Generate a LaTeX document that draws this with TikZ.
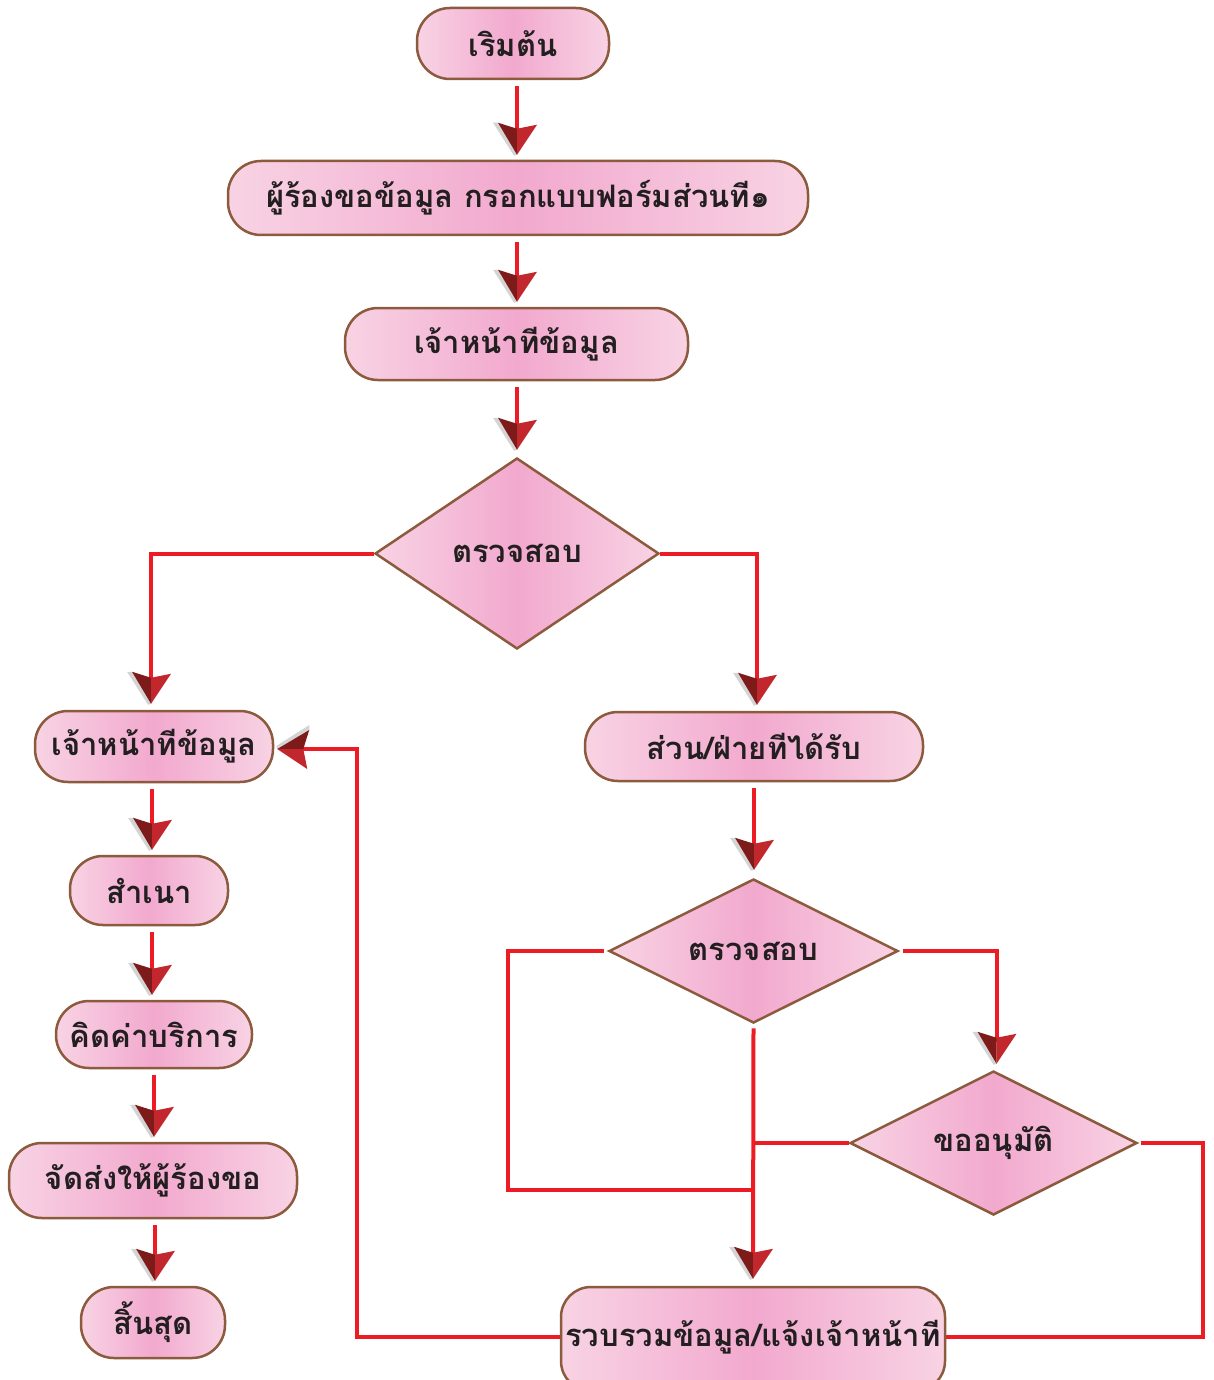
\documentclass[tikz,border=0pt]{standalone}
\usepackage{fontspec}
\usetikzlibrary{shapes.geometric,calc}
\newfontfamily\thaifont[Script=Thai]{Loma}
\definecolor{flowred}{HTML}{ED1C24}
\definecolor{headdark}{HTML}{7D1A1A}
\definecolor{headred}{HTML}{C1272D}
\definecolor{headshadow}{HTML}{D4D4D4}
\definecolor{rimbrown}{HTML}{8C5A3C}
\definecolor{pinkedge}{HTML}{F8D3E4}
\definecolor{pinkmid}{HTML}{F2A9CE}
\definecolor{inkgray}{HTML}{231F20}
\tikzset{
  x=1pt, y=-1pt,
  pinkfill/.style={left color=pinkedge, right color=pinkedge, middle color=pinkmid},
  labelfont/.style={font=\thaifont\bfseries\fontsize{31}{34}\selectfont, text=inkgray},
  stepbox/.style={pinkfill, draw=rimbrown, line width=2.5pt, rounded corners=33pt,
    inner sep=0pt, labelfont},
  decide/.style={diamond, pinkfill, draw=rimbrown, line width=2.5pt, inner sep=0pt, labelfont},
  conn/.style={draw=flowred, line width=4pt},
  tipped/.style={conn, shorten >=22pt},
  head/.pic={
    \fill[headshadow] (-24,-32) -- (-19,-32) -- (0,0) -- (-3,1) -- cycle;
    \fill[headdark] (-19,-32) -- (0,-26) -- (0,0) -- cycle;
    \fill[headred] (0,-26) -- (20,-30) -- (0,0) -- cycle;
  }
}
\begin{document}
\begin{tikzpicture}
\useasboundingbox (0,0) rectangle (1213,1380);

% main column
\node[stepbox, minimum width=192pt, minimum height=71pt] (start) at (513,43.5) {เริมต้น};
\node[stepbox, minimum width=580pt, minimum height=74pt] (form) at (518,198) {ผู้ร้องขอข้อมูล กรอกแบบฟอร์มส่วนที๑};
\node[stepbox, minimum width=343pt, minimum height=72pt] (staff) at (516.5,344) {เจ้าหน้าทีข้อมูล};
\node[decide, minimum width=284pt, minimum height=191pt, aspect=1.49] (check) at (517,553.5) {ตรวจสอบ};

% left column
\node[stepbox, minimum width=238pt, minimum height=71pt] (staffL) at (154,746.5) {เจ้าหน้าทีข้อมูล};
\node[stepbox, minimum width=158pt, minimum height=69pt] (copy) at (149,890.5) {สำเนา};
\node[stepbox, minimum width=196pt, minimum height=67pt] (fee) at (154,1034.5) {คิดค่าบริการ};
\node[stepbox, minimum width=288pt, minimum height=75pt] (send) at (153,1180.5) {จัดส่งให้ผู้ร้องขอ};
\node[stepbox, minimum width=144pt, minimum height=71pt] (finish) at (153,1322.5) {สิ้นสุด};

% right column
\node[stepbox, minimum width=338pt, minimum height=69pt] (dept) at (754,746.5) {ส่วน/ฝ่ายทีได้รับ};
\node[decide, minimum width=289pt, minimum height=144pt, aspect=2.0] (check2) at (753.5,951) {ตรวจสอบ};
\node[decide, minimum width=287pt, minimum height=144pt, aspect=2.0] (approve) at (993.5,1143) {ขออนุมัติ};
\node[stepbox, minimum width=384pt, minimum height=104pt, rounded corners=30pt] (collect) at (753,1339) {};
\node[labelfont, inner sep=0pt] (collectText) at (753,1337) {รวบรวมข้อมูล/แจ้งเจ้าหน้าที};

\coordinate (loopL) at (508,1190);
\coordinate (loopR) at (1203,1143);
\coordinate (loopB) at (357,1337);

% straight arrows, kept vertical
\draw[tipped] ($(start.south)+(4,6)$) -- ($(start.south |- form.north)+(4,-5)$) pic{head};
\draw[tipped] ($(form.south)+(-1,6)$) -- ($(form.south |- staff.north)+(-1,-5)$) pic{head};
\draw[tipped] ($(staff.south)+(0.5,6)$) -- ($(staff.south |- check.north)+(0.5,-7)$) pic{head};
\draw[tipped] ($(staffL.south)+(-2,6)$) -- ($(staffL.south |- copy.north)+(-2,-5)$) pic{head};
\draw[tipped] ($(copy.south)+(3,6)$) -- ($(copy.south |- fee.north)+(3,-5)$) pic{head};
\draw[tipped] ($(fee.south)+(0,6)$) -- ($(fee.south |- send.north)+(0,-5)$) pic{head};
\draw[tipped] ($(send.south)+(2,6)$) -- ($(send.south |- finish.north)+(2,-5)$) pic{head};
\draw[tipped] ($(dept.south)+(0,6)$) -- ($(dept.south |- check2.north)+(0,-8)$) pic{head};

% branches of the first check
\draw[tipped] (check.west) -| ($(staffL.north)+(-3,-6)$) pic{head};
\draw[tipped] (check.east) -| ($(dept.north)+(3,-6)$) pic{head};

% branches of the second check
\draw[conn] ($(check2.west)+(-4,0)$) -| (loopL) -- (check2.south |- loopL);
\draw[tipped] ($(check2.south)+(0,4)$) -- ($(collect.north)+(0,-7)$) pic{head};
\draw[tipped] ($(check2.east)+(4,0)$) -| ($(approve.north)+(3,-6)$) pic{head};

% branches of the approval
\draw[conn] (approve.west) -- (check2.south |- approve.west);
\draw[conn] ($(approve.east)+(3,0)$) -- (loopR) |- (collect.east |- collectText);

% return to the records officer
\draw[tipped] (collect.west |- collectText) -- (loopB) |- ($(staffL.east)+(3,2.5)$) pic[rotate=-90]{head};
\end{tikzpicture}
\end{document}
